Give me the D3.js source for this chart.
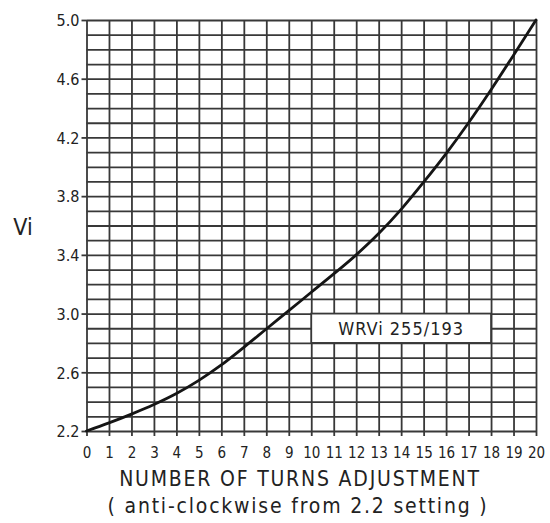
<!DOCTYPE html>
<html>
<head>
<meta charset="utf-8">
<script src="https://cdn.jsdelivr.net/npm/d3@7"></script>
<style>
  html, body { margin: 0; padding: 0; background: #fff; }
  svg { display: block; }
  text { font-family: "DejaVu Sans Condensed", "Liberation Sans Narrow", "DejaVu Sans", sans-serif; fill: #222; }
</style>
</head>
<body>
<svg id="chart" width="550" height="523"></svg>
<script>
// Turns of the adjustment screw and the resulting Vi reading
const turns = [0, 1, 2, 3, 4, 5, 6, 7, 8, 9, 10, 11, 12, 13, 14, 15, 16, 17, 18, 19, 20];
const viValues = [2.20, 2.255, 2.315, 2.38, 2.455, 2.545, 2.65, 2.77, 2.895, 3.02, 3.145,
                  3.27, 3.40, 3.545, 3.71, 3.895, 4.09, 4.30, 4.525, 4.76, 5.00];

// Axis ticks
const xTicks = [0, 1, 2, 3, 4, 5, 6, 7, 8, 9, 10, 11, 12, 13, 14, 15, 16, 17, 18, 19, 20];
const yTickValues = [2.2, 2.6, 3.0, 3.4, 3.8, 4.2, 4.6, 5.0];
const yTickLabels = ["2.2", "2.6", "3.0", "3.4", "3.8", "4.2", "4.6", "5.0"];
const yGridValues = [2.2, 2.3, 2.4, 2.5, 2.6, 2.7, 2.8, 2.9, 3.0, 3.1, 3.2, 3.3, 3.4, 3.5,
                     3.6, 3.7, 3.8, 3.9, 4.0, 4.1, 4.2, 4.3, 4.4, 4.5, 4.6, 4.7, 4.8, 4.9, 5.0];

// Labels
const yTitle = "Vi";
const xTitle = "NUMBER OF TURNS ADJUSTMENT";
const xSubtitle = "( anti-clockwise from 2.2 setting )";
const curveLabel = "WRVi 255/193";
// Label panel extent in data units: turns from/to, Vi from/to
const labelBoxTurns = [10, 18];
const labelBoxVi = [2.8, 3.0];

const svg = d3.select("#chart");
const x = d3.scaleLinear().domain([0, 20]).range([86.5, 536]);
const y = d3.scaleLinear().domain([2.2, 5.0]).range([431, 20]);

const gridColor = "#383838";
const gridWidth = 1.8;

// Vertical grid lines (one per turn), extended slightly below as tick marks
const gx = svg.append("g")
  .attr("transform", `translate(0,${y(2.2)})`)
  .call(d3.axisBottom(x).tickValues(xTicks).tickSizeOuter(0).tickFormat(""));
gx.select(".domain").remove();
gx.selectAll(".tick line").attr("stroke", gridColor).attr("stroke-width", gridWidth)
  .attr("y1", 5).attr("y2", -(y(2.2) - y(5.0)));

// Horizontal grid lines (every 0.1)
const gy = svg.append("g")
  .attr("transform", `translate(${x(0)},0)`)
  .call(d3.axisLeft(y).tickValues(yGridValues).tickSizeInner(-(x(20) - x(0))).tickSizeOuter(0).tickFormat(""));
gy.select(".domain").remove();
gy.selectAll(".tick line").attr("stroke", gridColor).attr("stroke-width", gridWidth);

// Short ticks left of the axis at labelled values, with labels
const yAxis = svg.append("g")
  .attr("transform", `translate(${x(0)},0)`)
  .call(d3.axisLeft(y).tickValues(yTickValues).tickSizeInner(5).tickSizeOuter(0)
    .tickFormat((d, i) => yTickLabels[i]));
yAxis.select(".domain").remove();
yAxis.selectAll(".tick line").attr("stroke", gridColor).attr("stroke-width", gridWidth);
yAxis.selectAll(".tick text")
  .attr("x", -7).attr("dy", "0.36em")
  .style("font-size", "16px").attr("fill", "#222");

// Bottom tick labels
const xAxis = svg.append("g")
  .attr("transform", `translate(0,${y(2.2)})`)
  .call(d3.axisBottom(x).tickValues(xTicks).tickSize(0).tickFormat(d3.format("d")));
xAxis.select(".domain").remove();
xAxis.selectAll(".tick text")
  .attr("y", 16).attr("dy", "0.71em")
  .style("font-size", "15px").attr("fill", "#222");

// Label panel over the grid
const bx0 = x(labelBoxTurns[0]), bx1 = x(labelBoxTurns[1]);
const by0 = y(labelBoxVi[1]), by1 = y(labelBoxVi[0]);
svg.append("rect")
  .attr("x", bx0).attr("y", by0)
  .attr("width", bx1 - bx0).attr("height", by1 - by0)
  .attr("fill", "#fff").attr("stroke", gridColor).attr("stroke-width", gridWidth);
svg.append("text")
  .attr("x", (bx0 + bx1) / 2).attr("y", (by0 + by1) / 2)
  .attr("text-anchor", "middle").attr("dy", "0.36em")
  .style("font-size", "18px").style("letter-spacing", "1px")
  .text(curveLabel);

// Curve
const line = d3.line()
  .x((d, i) => x(turns[i]))
  .y(d => y(d))
  .curve(d3.curveMonotoneX);
svg.append("path")
  .datum(viValues)
  .attr("fill", "none")
  .attr("stroke", "#151515")
  .attr("stroke-width", 2.8)
  .attr("stroke-linecap", "round")
  .attr("d", line);

// Titles
svg.append("text")
  .attr("x", 23).attr("y", 227).attr("dy", "0.36em")
  .attr("text-anchor", "middle")
  .style("font-size", "23px")
  .text(yTitle);
svg.append("text")
  .attr("x", 300).attr("y", 486)
  .attr("text-anchor", "middle")
  .style("font-size", "21px").style("letter-spacing", "1.8px")
  .text(xTitle);
svg.append("text")
  .attr("x", 298).attr("y", 513)
  .attr("text-anchor", "middle")
  .style("font-size", "21px").style("letter-spacing", "1.8px")
  .text(xSubtitle);
</script>
</body>
</html>
